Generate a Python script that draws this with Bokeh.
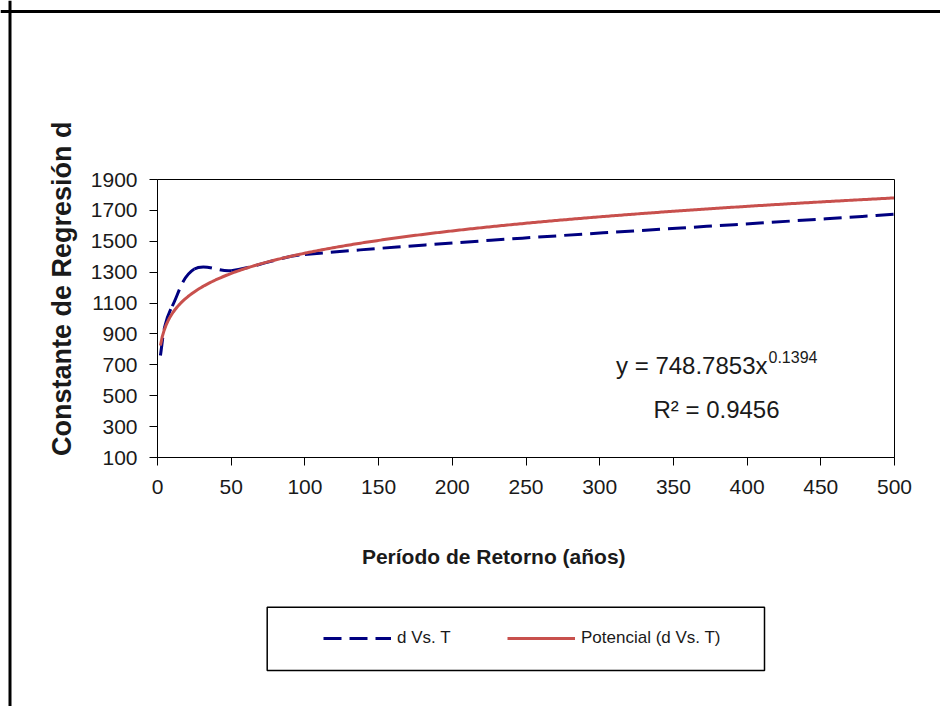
import math
from bokeh.plotting import figure
from bokeh.models import (Range1d, FixedTicker, Label, Legend, LegendItem,
                          ColumnDataSource, BoxAnnotation, Span)
from bokeh.embed import file_html
from bokeh.resources import INLINE

# ---- data ----
T_years = [2, 5, 10, 25, 50, 100, 500]
d_values = [760, 950, 1080, 1320, 1310, 1415, 1675]
trend_coef = 748.7853
trend_exp = 0.1394
x_ticks = [0, 50, 100, 150, 200, 250, 300, 350, 400, 450, 500]
y_ticks = [100, 300, 500, 700, 900, 1100, 1300, 1500, 1700, 1900]
x_lim = (0, 500)
y_lim = (100, 1900)
series_names = ["d Vs. T", "Potencial (d Vs. T)"]
eq_text = "y = 748.7853x"
eq_sup = "0.1394"
r2_text = "R² = 0.9456"
x_title = "Período  de  Retorno  (años)"
y_title = "Constante  de  Regresión  d"

FONT = "Liberation Sans"
BLUE = "#000080"
RED = "#C8504D"
TXT = "#1a1a1a"

# ---- page geometry (pixels) ----
W, H = 940, 706
PL, PR, PT, PB = 157, 894, 179, 457      # plot area edges
kx = (PR - PL) / (x_lim[1] - x_lim[0])   # px per year
ky = (PB - PT) / (y_lim[1] - y_lim[0])   # px per unit


def fx(px):
    return x_lim[0] + (px - PL) / kx


def fy(py):
    return y_lim[0] + (PB - py) / ky


p = figure(width=W, height=H, output_backend="svg", toolbar_location=None,
           x_range=Range1d(fx(0), fx(W)), y_range=Range1d(fy(H), fy(0)),
           min_border=0)
p.xgrid.visible = False
p.ygrid.visible = False
p.outline_line_color = None
p.background_fill_color = "white"
p.border_fill_color = "white"

p.xaxis[0].fixed_location = y_lim[0]
p.xaxis[0].bounds = x_lim
p.yaxis[0].fixed_location = x_lim[0]
p.yaxis[0].bounds = y_lim
for ax, ticks in ((p.xaxis[0], x_ticks), (p.yaxis[0], y_ticks)):
    ax.ticker = FixedTicker(ticks=ticks)
    ax.minor_tick_line_color = None
    ax.major_tick_in = 0
    ax.major_tick_out = 8
    ax.axis_line_color = "black"
    ax.major_tick_line_color = "black"
    ax.major_label_text_font = FONT
    ax.major_label_text_font_size = "21px"
    ax.major_label_text_color = TXT
p.yaxis[0].major_label_standoff = 12
p.xaxis[0].major_label_standoff = 14

# plot-area frame (top and right edges) and outer page border
p.add_layout(BoxAnnotation(left=x_lim[0], right=x_lim[1], bottom=y_lim[0],
                           top=y_lim[1], fill_alpha=0, line_color="black",
                           line_alpha=1, line_width=1))
p.add_layout(Span(location=fx(9.5), dimension="height", line_color="black",
                  line_width=3))
p.add_layout(Span(location=fy(11), dimension="width", line_color="black",
                  line_width=3))

# ---- smoothed data line (bezier segments through the data points) ----
n = len(T_years)
px = [t * kx for t in T_years]
py = [v * ky for v in d_values]
tan = []
for i in range(n):
    a = max(i - 1, 0)
    b = min(i + 1, n - 1)
    dx, dy = px[b] - px[a], py[b] - py[a]
    L = math.hypot(dx, dy)
    tan.append((dx / L, dy / L))
seg = dict(x0=[], y0=[], x1=[], y1=[], cx0=[], cy0=[], cx1=[], cy1=[])
for i in range(n - 1):
    L = math.hypot(px[i + 1] - px[i], py[i + 1] - py[i]) / 3.0
    seg["x0"].append(T_years[i]); seg["y0"].append(d_values[i])
    seg["x1"].append(T_years[i + 1]); seg["y1"].append(d_values[i + 1])
    seg["cx0"].append((px[i] + tan[i][0] * L) / kx)
    seg["cy0"].append((py[i] + tan[i][1] * L) / ky)
    seg["cx1"].append((px[i + 1] - tan[i + 1][0] * L) / kx)
    seg["cy1"].append((py[i + 1] - tan[i + 1][1] * L) / ky)
bez_src = ColumnDataSource(seg)

# ---- power trendline from the chart's displayed equation ----
t_min, t_max = T_years[0], T_years[-1]
trend_T = [t_min + (t_max - t_min) * k / 400 for k in range(401)]
trend_d = [trend_coef * t ** trend_exp for t in trend_T]

r_dash = p.bezier(x0="x0", y0="y0", x1="x1", y1="y1", cx0="cx0", cy0="cy0",
                  cx1="cx1", cy1="cy1", source=bez_src,
                  line_color=BLUE, line_width=3, line_dash="18 8")
r_trend = p.line(trend_T, trend_d, line_color=RED, line_width=3)

# ---- equation text ----
p.add_layout(Label(x=fx(767), y=fy(365), text=eq_text, text_align="right",
                   text_baseline="alphabetic", text_font=FONT,
                   text_font_size="24px", text_color=TXT))
p.add_layout(Label(x=fx(768), y=fy(356.5), text=eq_sup, text_align="left",
                   text_baseline="alphabetic", text_font=FONT,
                   text_font_size="16px", text_color=TXT))
p.add_layout(Label(x=fx(716), y=fy(409), text=r2_text, text_align="center",
                   text_baseline="alphabetic", text_font=FONT,
                   text_font_size="24px", text_color=TXT))

# ---- axis titles ----
p.add_layout(Label(x=fx(502), y=fy(556), text=x_title, text_align="center",
                   text_baseline="middle", text_font=FONT,
                   text_font_style="bold", text_font_size="21px",
                   text_color=TXT))
p.add_layout(Label(x=fx(61), y=fy(277), text=y_title, angle=math.pi / 2,
                   text_align="center", text_baseline="middle",
                   text_font=FONT, text_font_style="bold",
                   text_font_size="27px", text_color=TXT))

# ---- legend ----
p.add_layout(BoxAnnotation(left=fx(266.7), right=fx(764), top=fy(606.7),
                           bottom=fy(670), fill_color="white", fill_alpha=1,
                           line_color="black", line_alpha=1, line_width=1.5))
LPAD = 5
legend = Legend(items=[LegendItem(label=series_names[0], renderers=[r_dash]),
                       LegendItem(label=series_names[1], renderers=[r_trend])],
                orientation="horizontal",
                location=(323 - LPAD, H - (638.3 + LPAD + 10)),
                padding=LPAD, margin=0, spacing=56, glyph_width=68,
                glyph_height=20, label_standoff=6, label_width=54,
                label_height=20, label_text_font=FONT,
                label_text_font_size="17px", label_text_color=TXT,
                border_line_alpha=0, background_fill_alpha=0)
p.add_layout(legend, "center")

open("out.html", "w").write(file_html(p, INLINE))
